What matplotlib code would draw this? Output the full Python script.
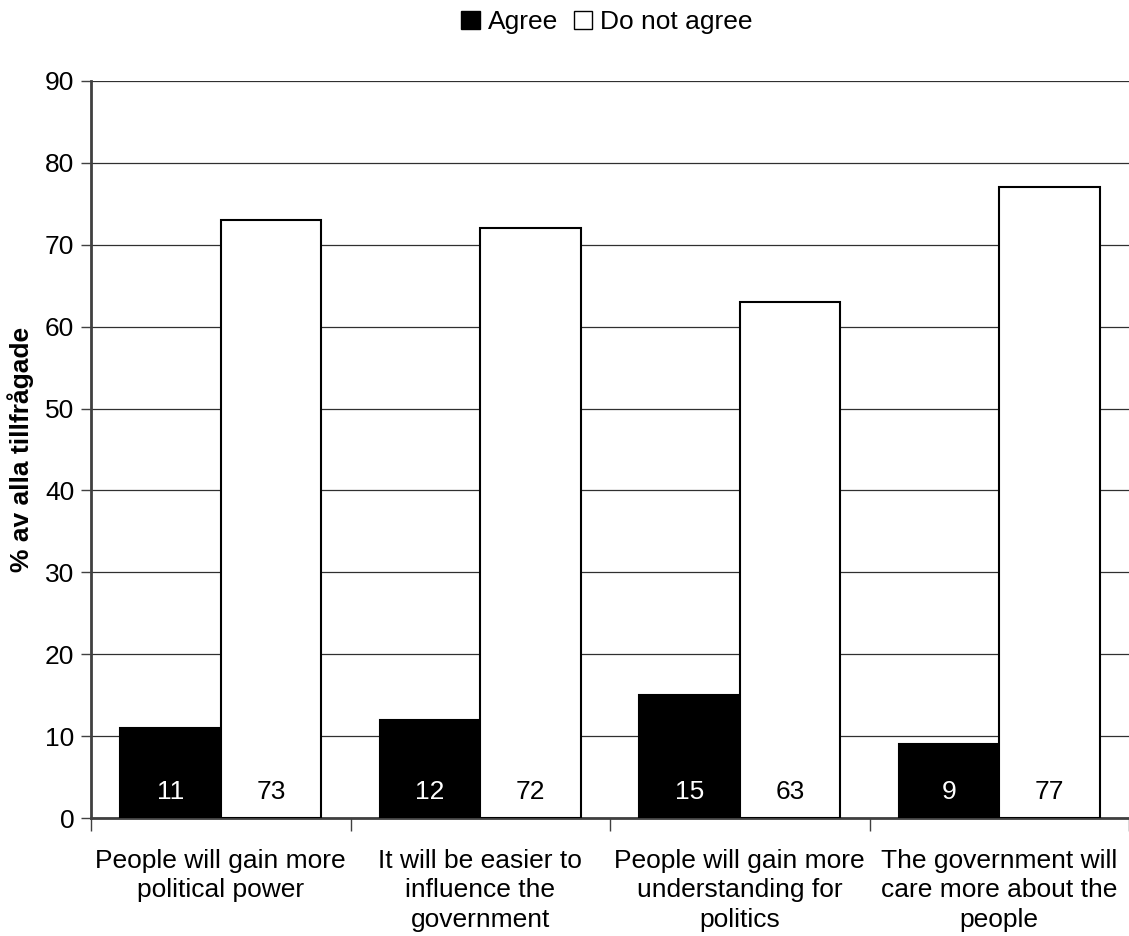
import numpy as np
import matplotlib.pyplot as plt
from matplotlib.patches import Patch

plt.rcParams['font.family'] = ['Liberation Sans', 'DejaVu Sans']

categories = ['People will gain more\npolitical power',
              'It will be easier to\ninfluence the\ngovernment',
              'People will gain more\nunderstanding for\npolitics',
              'The government will\ncare more about the\npeople']
agree = [11, 12, 15, 9]
not_agree = [73, 72, 63, 77]

x = np.arange(len(categories))
width = 0.387
fs = 19

fig = plt.figure(figsize=(11.29, 9.36), dpi=100)
ax = fig.add_axes([91 / 1129, 1 - 818 / 936, (1129 - 91) / 1129, (818 - 81) / 936])

ax.bar(x - width / 2, agree, width, color='black', edgecolor='black', linewidth=1.5, zorder=3)
ax.bar(x + width / 2, not_agree, width, color='white', edgecolor='black', linewidth=1.5, zorder=3)

for i in range(len(categories)):
    ax.text(x[i] - width / 2, 3.2, str(agree[i]), color='white', ha='center', va='center',
            fontsize=fs, zorder=4)
    ax.text(x[i] + width / 2, 3.2, str(not_agree[i]), color='black', ha='center', va='center',
            fontsize=fs, zorder=4)

ax.set_ylim(0, 90)
ax.set_xlim(-0.5, 3.5 - 6 / 261)
ax.set_yticks(np.arange(0, 91, 10))
ax.tick_params(axis='y', labelsize=fs, direction='out', length=7, width=1, color='#404040', pad=5)
ax.set_xticks(np.arange(-0.5, 4, 1))
ax.set_xticklabels([])
ax.set_xticks(x, minor=True)
ax.set_xticklabels(categories, minor=True, fontsize=fs, linespacing=1.3)
ax.tick_params(axis='x', which='major', direction='out', length=9, width=1, color='#404040')
ax.tick_params(axis='x', which='minor', length=0, pad=22)

ax.yaxis.grid(True, color='#303030', linewidth=0.9, zorder=0)
ax.set_axisbelow(True)
for s in ['top', 'right']:
    ax.spines[s].set_visible(False)
ax.spines['left'].set_color('#404040')
ax.spines['left'].set_linewidth(2)
ax.spines['bottom'].set_color('#404040')
ax.spines['bottom'].set_linewidth(2)

ax.set_ylabel('% av alla tillfrågade', fontsize=fs, fontweight='bold', labelpad=8)

handles = [Patch(facecolor='black', edgecolor='black', label='Agree'),
           Patch(facecolor='white', edgecolor='black', label='Do not agree')]
fig.legend(handles=handles, loc='center', bbox_to_anchor=(607 / 1129, 1 - 22 / 936), ncol=2,
           frameon=False, fontsize=fs, handlelength=0.7, handleheight=0.7,
           handletextpad=0.3, columnspacing=0.6)

plt.savefig('out.png', dpi=100)
